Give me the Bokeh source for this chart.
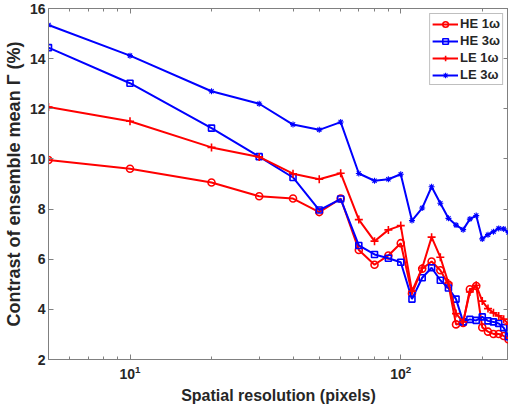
from bokeh.plotting import figure
from bokeh.models import (LogAxis, LinearAxis, CustomJSTickFormatter, Legend,
                          LegendItem, FixedTicker, Range1d, LogTickFormatter)
from bokeh.embed import file_html
from bokeh.resources import INLINE

# ---- data ----
resolution = [5, 10, 20, 30, 40, 50, 60, 70, 80, 90, 100, 110, 120, 130, 140,
              150, 160, 170, 180, 190, 200, 210, 220, 230, 240, 250]
he_1w = [9.96, 9.61, 9.06, 8.51, 8.42, 7.88, 8.42, 6.37, 5.78, 6.15, 6.64, 4.63,
         5.62, 5.91, 5.56, 4.99, 3.40, 3.46, 4.80, 4.93, 3.28, 3.11, 3.02, 3.02,
         2.94, 2.80]
he_3w = [14.44, 13.02, 11.23, 10.09, 9.26, 7.96, 8.40, 6.55, 6.19, 6.04, 5.88,
         4.41, 5.26, 5.66, 5.16, 4.85, 4.41, 3.50, 3.60, 3.56, 3.70, 3.54, 3.50,
         3.44, 3.27, 2.91]
le_1w = [12.07, 11.50, 10.46, 10.08, 9.41, 9.19, 9.43, 7.58, 6.72, 7.17, 7.34,
         4.72, 5.65, 6.88, 6.08, 5.05, 3.83, 3.50, 4.69, 4.96, 4.33, 4.03, 3.86,
         3.74, 3.61, 3.41]
le_3w = [15.34, 14.12, 12.70, 12.20, 11.37, 11.16, 11.47, 9.42, 9.13, 9.19, 9.39,
         7.54, 8.04, 8.89, 8.23, 7.63, 7.36, 7.18, 7.60, 7.74, 6.81, 6.98, 7.10,
         7.23, 7.21, 7.07]
y_ticks = [2, 4, 6, 8, 10, 12, 14, 16]
x_major = [10, 100]
x_minor = [6, 7, 8, 9, 20, 30, 40, 50, 60, 70, 80, 90, 200]
labels = ["HE 1ω", "HE 3ω", "LE 1ω", "LE 3ω"]

FONT = "Liberation Sans"
AX = "#808080"
TXT = "#262626"

p = figure(width=508, height=406, x_axis_type="log",
           x_range=Range1d(5, 250), y_range=Range1d(2, 16),
           output_backend="svg", toolbar_location=None,
           min_border_left=0, min_border_right=0, min_border_top=8,
           min_border_bottom=0)
p.grid.visible = False
p.outline_line_color = AX
p.outline_line_width = 1
p.background_fill_color = "white"
p.border_fill_color = "white"

p.xaxis.ticker = FixedTicker(ticks=x_major, minor_ticks=x_minor)
p.xaxis.formatter = LogTickFormatter()
p.yaxis.ticker = FixedTicker(ticks=y_ticks, minor_ticks=[])
p.xaxis.axis_label = "Spatial resolution (pixels)"
p.yaxis.axis_label = "Contrast of ensemble mean Γ (%)"

for ax in (p.xaxis[0], p.yaxis[0]):
    ax.axis_line_color = AX
    ax.major_tick_line_color = AX
    ax.minor_tick_line_color = AX
    ax.major_tick_in = 5
    ax.major_tick_out = 0
    ax.minor_tick_in = 3
    ax.minor_tick_out = 0
    ax.major_label_text_font = FONT
    ax.major_label_text_font_style = "bold"
    ax.major_label_text_font_size = "14px"
    ax.major_label_text_color = TXT
    ax.axis_label_text_font = FONT
    ax.axis_label_text_font_style = "bold"
    ax.axis_label_text_color = TXT
p.xaxis.axis_label_text_font_size = "16px"
p.yaxis.axis_label_text_font_size = "18px"
p.xaxis.major_label_standoff = 5
p.xaxis.axis_label_standoff = 5
p.yaxis.major_label_standoff = 3
p.yaxis.axis_label_standoff = 3

blank = CustomJSTickFormatter(code="return ''")
top = LogAxis(ticker=FixedTicker(ticks=x_major, minor_ticks=x_minor), formatter=blank)
right = LinearAxis(ticker=FixedTicker(ticks=y_ticks, minor_ticks=[]), formatter=blank)
for ax in (top, right):
    ax.axis_line_color = None
    ax.major_tick_line_color = AX
    ax.minor_tick_line_color = AX
    ax.major_tick_in = 5
    ax.major_tick_out = 0
    ax.minor_tick_in = 3
    ax.minor_tick_out = 0
    ax.major_label_standoff = 0
    ax.major_label_text_font_size = "1px"
p.add_layout(top, "above")
p.add_layout(right, "right")

items = []
specs = [
    (he_1w, "red", "circle", 7, 1.6),
    (he_3w, "blue", "square", 6, 1.6),
    (le_1w, "red", "cross", 8, 1.6),
    (le_3w, "blue", "asterisk", 6, 1.1),
]
for (vals, col, mk, sz, lw), lab in zip(specs, labels):
    r1 = p.line(resolution, vals, line_color=col, line_width=2)
    r2 = p.scatter(resolution, vals, marker=mk, size=sz, line_color=col,
                   fill_color=None, line_width=lw)
    items.append(LegendItem(label=lab, renderers=[r1, r2]))

leg = Legend(items=items, location="top_right")
leg.label_text_font = FONT
leg.label_text_font_style = "bold"
leg.label_text_font_size = "13px"
leg.label_text_color = TXT
leg.border_line_color = AX
leg.border_line_width = 1
leg.background_fill_alpha = 1
leg.glyph_width = 26
leg.glyph_height = 14
leg.label_height = 14
leg.spacing = 2
leg.padding = 2
leg.margin = 5
leg.label_standoff = 2
p.add_layout(leg)

open("out.html", "w").write(file_html(p, INLINE))
